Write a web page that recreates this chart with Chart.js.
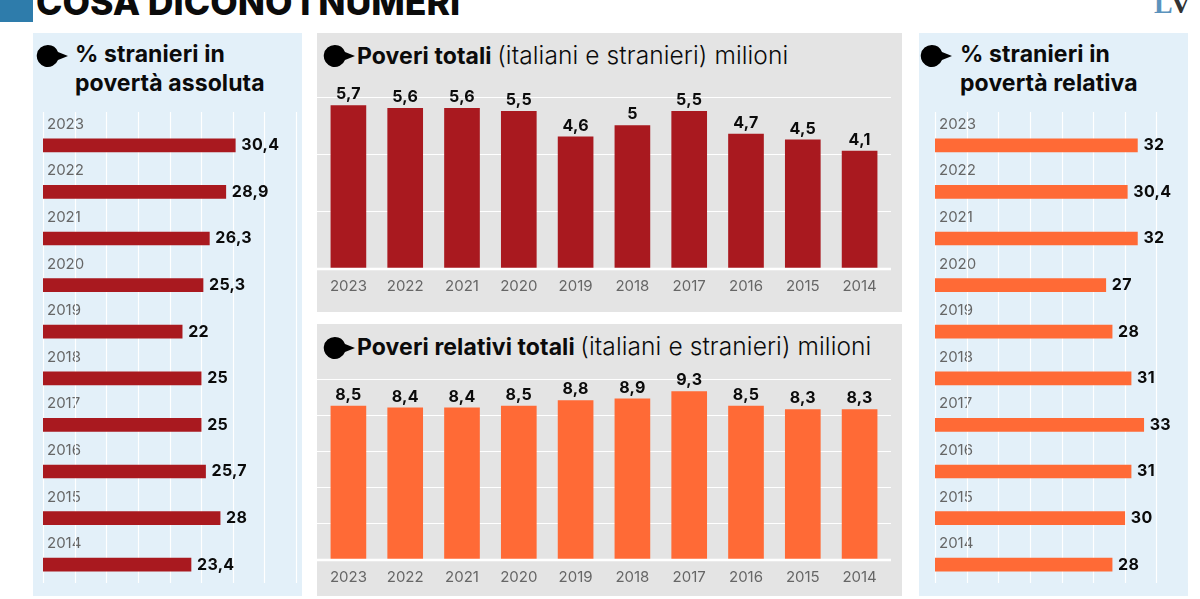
<!DOCTYPE html>
<html lang="it">
<head>
<meta charset="utf-8">
<title>Cosa dicono i numeri</title>
<script src="https://cdn.jsdelivr.net/npm/chart.js@4"></script>
<style>
  html, body { margin: 0; padding: 0; background: #fff; }
  body { position: relative; width: 1200px; height: 599px; overflow: hidden; font-family: Inter, sans-serif; color: #0b0b0b; }
  .abs { position: absolute; }
  .panel { position: absolute; }
  .blue { background: #e3f0f9; }
  .grey { background: #e4e4e4; }
  .panel canvas { position: absolute; left: 0; top: 0; }
  .dot { position: absolute; width: 33px; height: 24px; }
  .title { position: absolute; font-size: 23px; font-weight: 700; line-height: 29px; white-space: nowrap; letter-spacing: 0.1px; }
  .title span { font-weight: 300; font-size: 24.5px; letter-spacing: 0.1px; }
  #square { left: 0; top: 0; width: 33px; height: 22px; background: #2e7cab; }
  #headline { left: 36px; top: -17px; font-size: 35.6px; line-height: 40px; font-weight: 800; white-space: nowrap; }
  #logo { left: 1154px; top: -11px; font-family: "Liberation Serif", serif; font-weight: 700; font-size: 28px; line-height: 30px; color: #333; letter-spacing: -2px; }
  #logo b { color: #5b93bd; }
</style>
</head>
<body>
<div class="abs" id="square"></div>
<div class="abs" id="headline">COSA DICONO I NUMERI</div>
<div class="abs" id="logo"><b>L</b>V</div>

<div class="panel blue" style="left:33px;top:33px;width:269px;height:563px">
  <svg class="dot" style="left:3px;top:11px" viewBox="0 0 33 24"><path d="M12 1a11 11 0 0 1 10 7l10 4-10 4a11 11 0 1 1-10-15z"/></svg>
  <div class="title" style="left:42px;top:7px">% stranieri in<br>povertà assoluta</div>
  <canvas id="chartAssoluta" width="269" height="563"></canvas>
</div>

<div class="panel grey" style="left:317px;top:33px;width:585px;height:279px">
  <svg class="dot" style="left:6px;top:11px" viewBox="0 0 33 24"><path d="M12 1a11 11 0 0 1 10 7l10 4-10 4a11 11 0 1 1-10-15z"/></svg>
  <div class="title" style="left:40px;top:8px">Poveri totali <span>(italiani e stranieri) milioni</span></div>
  <canvas id="chartTotali" width="585" height="279"></canvas>
</div>

<div class="panel grey" style="left:317px;top:324px;width:585px;height:272px">
  <svg class="dot" style="left:6px;top:12px" viewBox="0 0 33 24"><path d="M12 1a11 11 0 0 1 10 7l10 4-10 4a11 11 0 1 1-10-15z"/></svg>
  <div class="title" style="left:40px;top:8px">Poveri relativi totali <span>(italiani e stranieri) milioni</span></div>
  <canvas id="chartRelativi" width="585" height="272"></canvas>
</div>

<div class="panel blue" style="left:919px;top:33px;width:269px;height:563px">
  <svg class="dot" style="left:1px;top:11px" viewBox="0 0 33 24"><path d="M12 1a11 11 0 0 1 10 7l10 4-10 4a11 11 0 1 1-10-15z"/></svg>
  <div class="title" style="left:41px;top:7px">% stranieri in<br>povertà relativa</div>
  <canvas id="chartStranieriRel" width="269" height="563"></canvas>
</div>

<script>
const years = ['2023', '2022', '2021', '2020', '2019', '2018', '2017', '2016', '2015', '2014'];
const stranieriAssoluta = [30.4, 28.9, 26.3, 25.3, 22, 25, 25, 25.7, 28, 23.4];
const poveriTotali = [5.7, 5.6, 5.6, 5.5, 4.6, 5, 5.5, 4.7, 4.5, 4.1];
const poveriRelativi = [8.5, 8.4, 8.4, 8.5, 8.8, 8.9, 9.3, 8.5, 8.3, 8.3];
const stranieriRelativa = [32, 30.4, 32, 27, 28, 31, 33, 31, 30, 28];

const RED = '#a9191f';
const ORANGE = '#ff6a36';
const YEAR_COLOR = '#666666';

Chart.defaults.animation = false;
Chart.defaults.responsive = false;
Chart.defaults.font.family = 'Inter, sans-serif';

// value labels next to the bars, with the italian decimal comma
const valueLabels = {
    id: 'valueLabels',
    afterDatasetsDraw(chart) {
        const { ctx } = chart;
        const horizontal = chart.options.indexAxis === 'y';
        const values = chart.data.datasets[0].data;
        ctx.save();
        ctx.fillStyle = '#0b0b0b';
        ctx.font = '700 16px Inter, sans-serif';
        ctx.letterSpacing = '0.3px';
        ctx.textBaseline = 'middle';
        ctx.textAlign = horizontal ? 'left' : 'center';
        chart.getDatasetMeta(0).data.forEach((bar, i) => {
            const txt = String(values[i]).replace('.', ',');
            if (horizontal) ctx.fillText(txt, bar.x + 6, bar.y);
            else ctx.fillText(txt, bar.x, bar.y - 11);
        });
        ctx.restore();
    }
};

// white grid, it runs a bit further than the bands of the categories
const whiteGrid = {
    id: 'whiteGrid',
    beforeDatasetsDraw(chart, args, opts) {
        const { ctx } = chart;
        const scale = chart.scales[opts.axis];
        ctx.save();
        ctx.strokeStyle = '#ffffff';
        opts.ticks.forEach(v => {
            const p = Math.round(scale.getPixelForValue(v)) + 0.5;
            ctx.lineWidth = 1.2;
            ctx.beginPath();
            if (opts.axis === 'x') {
                ctx.moveTo(p, opts.from);
                ctx.lineTo(p, opts.to);
            } else {
                ctx.moveTo(opts.from, p);
                ctx.lineTo(opts.to, p);
            }
            ctx.stroke();
        });
        ctx.restore();
    },
    afterDatasetsDraw(chart, args, opts) {
        if (opts.axis !== 'y') return;
        const { ctx } = chart;
        const p = chart.scales.y.getPixelForValue(0);
        ctx.save();
        ctx.strokeStyle = '#ffffff';
        ctx.lineWidth = 2.5;
        ctx.beginPath();
        ctx.moveTo(opts.from, p + 1);
        ctx.lineTo(opts.to, p + 1);
        ctx.stroke();
        ctx.restore();
    }
};

function horizontalChart(id, values, color, padLeft, padRight) {
    return new Chart(document.getElementById(id), {
        type: 'bar',
        data: { labels: years, datasets: [{ data: values, backgroundColor: color, barThickness: 13 }] },
        plugins: [whiteGrid, valueLabels],
        options: {
            indexAxis: 'y',
            layout: { padding: { left: padLeft, right: padRight, top: 89, bottom: 8 } },
            scales: {
                x: { display: false, min: 0, max: 40 },
                y: {
                    grid: { display: false },
                    border: { display: false },
                    // mirrored labels sit inside the plot, they need no room of their own
                    afterFit(scale) { scale.width = 0; scale.paddingBottom = 0; scale.paddingTop = 0; },
                    ticks: {
                        mirror: true,
                        padding: 4,
                        labelOffset: -21,
                        color: YEAR_COLOR,
                        font: { size: 15, weight: 400 }
                    }
                }
            },
            plugins: {
                legend: { display: false },
                tooltip: { enabled: false },
                whiteGrid: { axis: 'x', ticks: [0, 5, 10, 15, 20, 25, 30, 35, 40], from: 79, to: 550 }
            }
        }
    });
}

function verticalChart(id, values, color, yMax, yTicks, top, axisHeight) {
    return new Chart(document.getElementById(id), {
        type: 'bar',
        data: { labels: years, datasets: [{ data: values, backgroundColor: color, barThickness: 35 }] },
        plugins: [whiteGrid, valueLabels],
        options: {
            layout: { padding: { left: 3, right: 14, top: top, bottom: 0 } },
            scales: {
                x: {
                    grid: { display: false },
                    border: { display: false },
                    afterFit(scale) { scale.height = axisHeight; },
                    ticks: { padding: 1, maxRotation: 0, color: YEAR_COLOR, font: { size: 15, weight: 400 } }
                },
                y: { display: false, min: 0, max: yMax }
            },
            plugins: {
                legend: { display: false },
                tooltip: { enabled: false },
                whiteGrid: { axis: 'y', ticks: yTicks, from: 0, to: 574 }
            }
        }
    });
}

horizontalChart('chartAssoluta', stranieriAssoluta, RED, 10, 6);
verticalChart('chartTotali', poveriTotali, RED, 6, [0, 2, 4, 6], 64, 44);
verticalChart('chartRelativi', poveriRelativi, ORANGE, 10, [0, 2, 4, 6, 8, 10], 55, 37);
horizontalChart('chartStranieriRel', stranieriRelativa, ORANGE, 16, 0);
</script>
</body>
</html>
